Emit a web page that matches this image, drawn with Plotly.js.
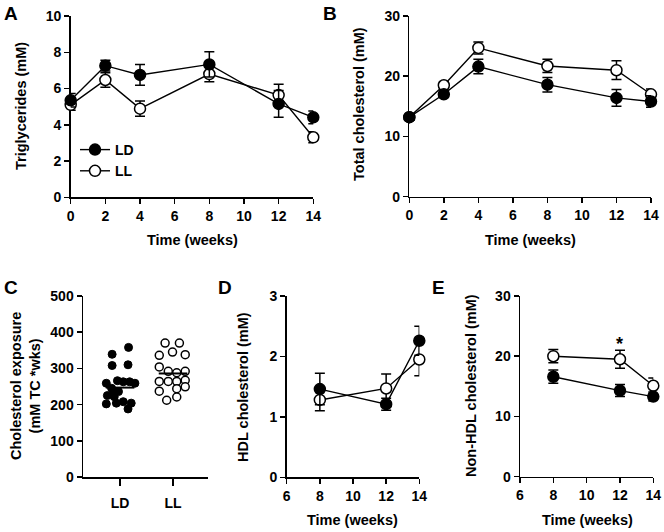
<!DOCTYPE html>
<html>
<head>
<meta charset="utf-8">
<script src="https://cdn.plot.ly/plotly-3.0.1.min.js"></script>
<style>html,body{margin:0;padding:0;background:#fff}#chart{width:664px;height:532px}</style>
</head>
<body>
<div id="chart"></div>
<script>
// ---------- data ----------
const groups = ['LD', 'LL'];

// A: triglycerides
const weeksAB = [0, 2, 4, 8, 12, 14];
const tgLD = [5.35, 7.26, 6.75, 7.33, 5.15, 4.41];
const tgLDerr = [0.37, 0.3, 0.57, 0.7, 0.74, 0.35];
const tgLL = [5.1, 6.47, 4.89, 6.8, 5.64, 3.31];
const tgLLerr = [0.3, 0.4, 0.42, 0.42, 0.6, 0.3];

// B: total cholesterol
const tcLD = [13.2, 17.0, 21.6, 18.6, 16.4, 15.8];
const tcLDerr = [0.5, 0.5, 1.2, 1.2, 1.4, 0.95];
const tcLL = [13.2, 18.5, 24.7, 21.7, 21.0, 17.0];
const tcLLerr = [0.5, 0.6, 1.0, 1.1, 1.55, 0.9];

// C: cholesterol exposure (individual animals)
const expLD = [358, 339, 308, 310, 259, 266, 263, 263, 259, 245, 236, 236, 225, 222, 202, 204, 208, 204, 188];
const expLDjit = [0.16, -0.15, -0.15, 0.15, -0.26, -0.05, 0.06, 0.18, 0.28, -0.16, -0.11, -0.03, -0.24, -0.11, -0.26, -0.07, 0.06, 0.21, 0.15];
const expLL = [370, 370, 336, 345, 338, 304, 292, 288, 292, 264, 264, 264, 267, 237, 244, 249, 212, 221];
const expLLjit = [-0.15, 0.12, -0.26, -0.01, 0.23, -0.26, -0.09, 0.07, 0.23, -0.26, -0.09, 0.07, 0.23, -0.26, 0.07, 0.23, -0.12, 0.07];
const expMeans = [247, 286];

// D: HDL cholesterol
const weeksDE = [8, 12, 14];
const hdlLD = [1.46, 1.21, 2.26];
const hdlLDerr = [0.26, 0.1, 0.24];
const hdlLL = [1.28, 1.47, 1.95];
const hdlLLerr = [0.18, 0.24, 0.27];

// E: non-HDL cholesterol
const nhLD = [16.6, 14.3, 13.3];
const nhLDerr = [1.1, 1.0, 0.75];
const nhLL = [20.0, 19.5, 15.1];
const nhLLerr = [1.1, 1.5, 1.3];

// ---------- helpers ----------
const W = 664, H = 532;
const px = x => x / W;
const py = y => 1 - y / H;
const FONT = 'Liberation Sans, Arial, sans-serif';

function series(x, y, err, filled, xa, ya, name, showlegend) {
  return {
    type: 'scatter', mode: 'lines+markers', x: x, y: y, name: name,
    xaxis: xa, yaxis: ya, showlegend: !!showlegend, cliponaxis: false,
    line: {color: '#000', width: 1.4},
    marker: {symbol: 'circle', size: 11, color: filled ? '#000' : '#fff', line: {color: '#000', width: 1.5}},
    error_y: {type: 'data', array: err, visible: true, color: '#000', thickness: 1.5, width: 5}
  };
}

const traces = [
  series(weeksAB, tgLL, tgLLerr, false, 'x', 'y', 'LL', true),
  series(weeksAB, tgLD, tgLDerr, true, 'x', 'y', 'LD', true),
  series(weeksAB, tcLL, tcLLerr, false, 'x2', 'y2', 'LL'),
  series(weeksAB, tcLD, tcLDerr, true, 'x2', 'y2', 'LD'),
  series(weeksDE, hdlLL, hdlLLerr, false, 'x4', 'y4', 'LL'),
  series(weeksDE, hdlLD, hdlLDerr, true, 'x4', 'y4', 'LD'),
  series(weeksDE, nhLL, nhLLerr, false, 'x5', 'y5', 'LL'),
  series(weeksDE, nhLD, nhLDerr, true, 'x5', 'y5', 'LD'),
  {
    type: 'scatter', mode: 'markers', xaxis: 'x3', yaxis: 'y3', showlegend: false, cliponaxis: false,
    x: expLD.map((v, i) => 1 + expLDjit[i]), y: expLD,
    marker: {size: 8, color: '#000', line: {color: '#000', width: 1}}
  },
  {
    type: 'scatter', mode: 'markers', xaxis: 'x3', yaxis: 'y3', showlegend: false, cliponaxis: false,
    x: expLL.map((v, i) => 2 + expLLjit[i]), y: expLL,
    marker: {size: 8, color: '#fff', line: {color: '#000', width: 1.5}}
  }
];
// mean lines for C
groups.forEach((g, i) => {
  traces.push({
    type: 'scatter', mode: 'lines', xaxis: 'x3', yaxis: 'y3', showlegend: false,
    x: [i + 1 - 0.27, i + 1 + 0.27], y: [expMeans[i], expMeans[i]],
    line: {color: '#000', width: 2}
  });
});

const tickFont = {family: FONT, size: 14, color: '#000', weight: 'bold'};
function ax(domain, anchor, extra) {
  return Object.assign({
    domain: domain, anchor: anchor, showline: true, linecolor: '#000', linewidth: 1.5,
    ticks: 'outside', ticklen: 5, tickwidth: 1.5, tickcolor: '#000',
    showgrid: false, zeroline: false, tickfont: tickFont, fixedrange: true,
    layer: 'below traces'
  }, extra);
}

const layout = {
  width: W, height: H,
  margin: {l: 0, r: 0, t: 0, b: 0},
  paper_bgcolor: '#fff', plot_bgcolor: '#fff',
  font: {family: FONT, color: '#000'},
  showlegend: true,
  legend: {
    x: px(75), y: py(134), xanchor: 'left', yanchor: 'top',
    traceorder: 'reversed', bgcolor: 'rgba(0,0,0,0)',
    font: {family: FONT, size: 14, color: '#000', weight: 'bold'},
    itemclick: false, itemdoubleclick: false
  },
  xaxis: ax([px(70.7), px(313.3)], 'y', {range: [0, 14], tickmode: 'linear', tick0: 0, dtick: 2}),
  yaxis: ax([py(197.3), py(16)], 'x', {range: [0, 10], tickmode: 'linear', tick0: 0, dtick: 2}),
  xaxis2: ax([px(409.3), px(651)], 'y2', {range: [0, 14], tickmode: 'linear', tick0: 0, dtick: 2}),
  yaxis2: ax([py(196.7), py(16)], 'x2', {range: [0, 30], tickmode: 'linear', tick0: 0, dtick: 10}),
  xaxis3: ax([px(83), px(208)], 'y3', {range: [0.3, 2.66], tickmode: 'array', tickvals: [1, 2], ticktext: groups, ticklen: 7, ticklabelstandoff: 6}),
  yaxis3: ax([py(477), py(296)], 'x3', {range: [0, 500], tickmode: 'linear', tick0: 0, dtick: 100}),
  xaxis4: ax([px(286.7), px(419.3)], 'y4', {range: [6, 14], tickmode: 'linear', tick0: 6, dtick: 2}),
  yaxis4: ax([py(477.3), py(296)], 'x4', {range: [0, 3], tickmode: 'linear', tick0: 0, dtick: 1}),
  xaxis5: ax([px(520), px(653.3)], 'y5', {range: [6, 14], tickmode: 'linear', tick0: 6, dtick: 2}),
  yaxis5: ax([py(476.7), py(296)], 'x5', {range: [0, 30], tickmode: 'linear', tick0: 0, dtick: 10}),
  annotations: []
};

const titleFont = {family: FONT, size: 14.5, color: '#000', weight: 'bold'};
const letterFont = {family: FONT, size: 19, color: '#000', weight: 'bold'};
function note(text, x, y, font, angle) {
  layout.annotations.push({
    text: text, x: px(x), y: py(y), xref: 'paper', yref: 'paper',
    xanchor: 'center', yanchor: 'middle', showarrow: false, font: font, textangle: angle || 0
  });
}
// panel letters
note('A', 11, 14, letterFont);
note('B', 330, 14, letterFont);
note('C', 11, 287, letterFont);
note('D', 225, 287, letterFont);
note('E', 438, 287, letterFont);
// axis titles
note('Triglycerides (mM)', 21, 106, titleFont, -90);
note('Time (weeks)', 192, 240, titleFont);
note('Total cholesterol (mM)', 359, 104, titleFont, -90);
note('Time (weeks)', 530, 240, titleFont);
note('Cholesterol exposure<br>(mM TC *wks)', 25, 386, titleFont, -90);
note('HDL cholesterol (mM)', 243, 387, titleFont, -90);
note('Time (weeks)', 353, 520, titleFont);
note('Non-HDL cholesterol (mM)', 471, 386, titleFont, -90);
note('Time (weeks)', 587, 520, titleFont);
// significance mark
layout.annotations.push({
  text: '*', x: 12, y: 22.0, xref: 'x5', yref: 'y5', showarrow: false,
  xanchor: 'center', yanchor: 'middle', font: {family: FONT, size: 18, color: '#000', weight: 'bold'}
});

Plotly.newPlot('chart', traces, layout, {staticPlot: true, displayModeBar: false});
</script>
</body>
</html>
